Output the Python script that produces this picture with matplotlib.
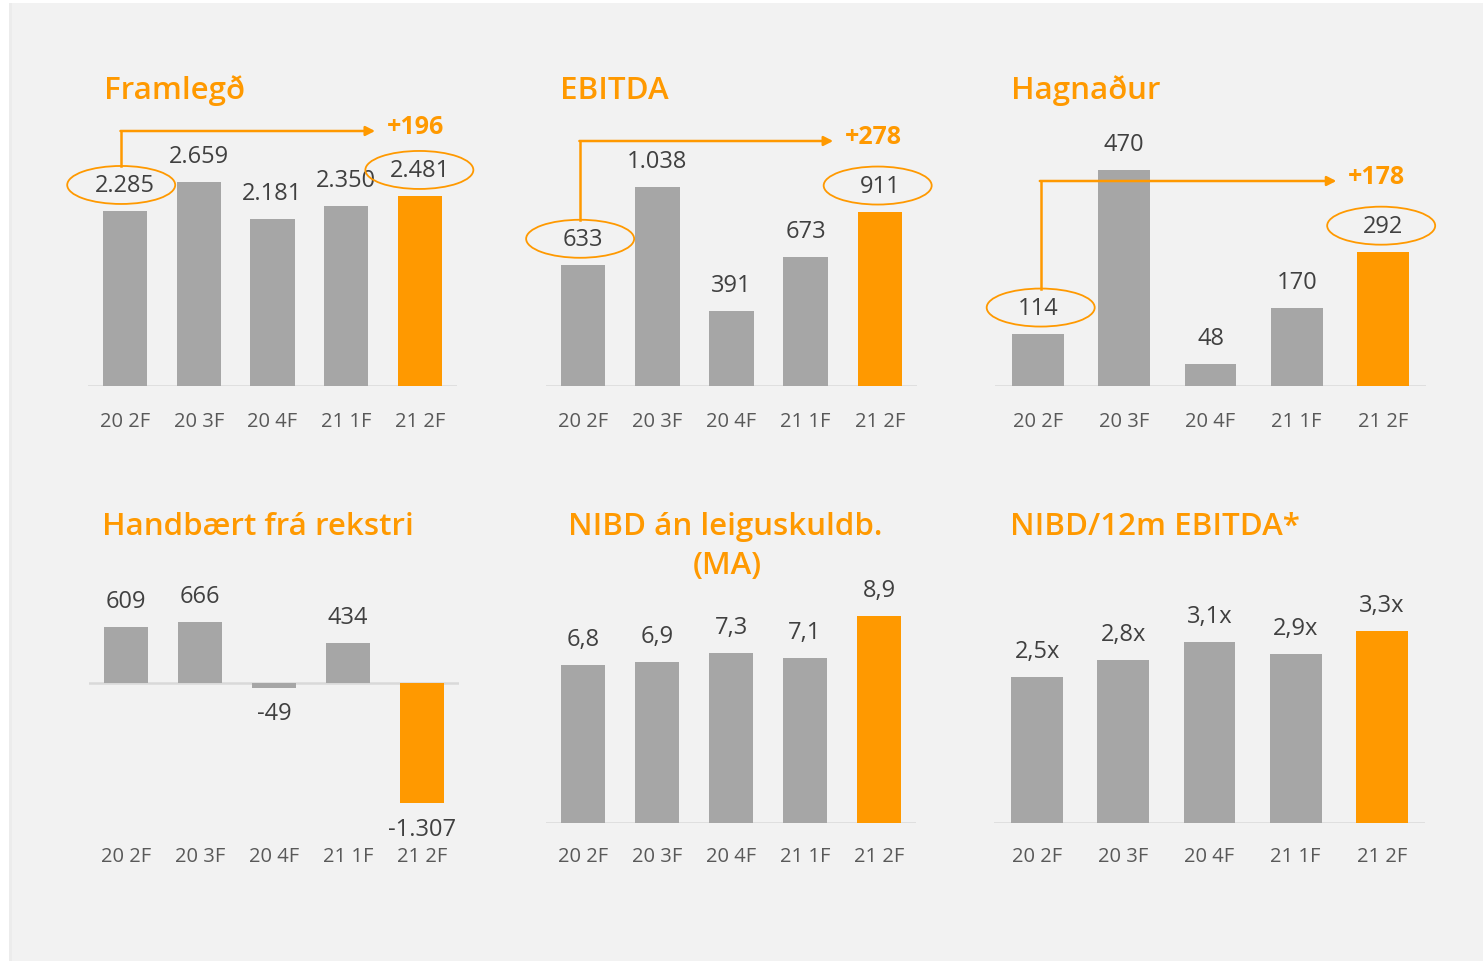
"""Six small quarterly bar panels (Framlegð, EBITDA, Hagnaður, ...)"""

import matplotlib
matplotlib.use('Agg')
import matplotlib.pyplot as plt
from matplotlib.patches import Ellipse, Rectangle

# data
quarters = ['20 2F', '20 3F', '20 4F', '21 1F', '21 2F']
framlegd = [2285, 2659, 2181, 2350, 2481]
ebitda = [633, 1038, 391, 673, 911]
hagnadur = [114, 470, 48, 170, 292]
handbaert = [609, 666, -49, 434, -1307]
nibd = [6.8, 6.9, 7.3, 7.1, 8.9]
nibd_ebitda = [2.5, 2.8, 3.1, 2.9, 3.3]

# colours
ORANGE = '#ff9900'
GRAY = '#a6a6a6'
TXT = '#404040'
TICK = '#595959'

W, H = 1483, 962
plt.rcParams['font.family'] = ['Open Sans', 'DejaVu Sans']
fig = plt.figure(figsize=(W / 100, H / 100), dpi=100)
fig.patch.set_facecolor('white')

# light gray slide background with a faint shadow on the left edge
for off, col in [(3, '#ececec'), (2, '#dedede'), (1, '#cfcfcf')]:
    fig.add_artist(Rectangle(((12 - off) / W, 0), (W - 12 + off) / W, (H - 4) / H,
                             transform=fig.transFigure, facecolor=col,
                             edgecolor='none', zorder=-12 + off))
fig.add_artist(Rectangle((12 / W, 0), (W - 12) / W, (H - 4) / H,
                         transform=fig.transFigure, facecolor='#f2f2f2',
                         edgecolor='none', zorder=-5))


def fmt_int(v):
    return f'{v:,}'.replace(',', '.')


def fmt_dec(v):
    return f'{v:.1f}'.replace('.', ',')


def fmt_x(v):
    return fmt_dec(v) + 'x'


def panel(values, fmt, left, right, base, top, bottom, scale, pad):
    """axes placed by pixel box; scale = pixels per data unit"""
    ax = fig.add_axes([left / W, 1 - bottom / H, (right - left) / W, (bottom - top) / H])
    ax.set_facecolor('none')
    ax.set_xlim(-0.5, 4.5)
    ax.set_ylim(-(bottom - base) / scale, (base - top) / scale)
    for s in ax.spines.values():
        s.set_visible(False)
    ax.set_yticks([])
    ax.set_xticks(range(len(quarters)), quarters)
    ax.tick_params(axis='x', length=0, pad=pad, labelsize=14.5, labelcolor=TICK)
    ax.axhline(0, color='#d9d9d9', lw=1.8, zorder=1)
    colors = [GRAY] * (len(values) - 1) + [ORANGE]
    ax.bar(range(len(values)), values, width=0.6, color=colors, zorder=2)
    for i, v in enumerate(values):
        off = 18.7 if v >= 0 else -18.7
        ax.annotate(fmt(v), (i, v), xytext=(0, off), textcoords='offset points',
                    ha='center', va='center', fontsize=17, color=TXT, zorder=4)
    ux = (right - left) / 5.0
    return ax, ux, scale


def growth_marker(ax, ux, scale, values, arrow_px, end_idx, dx0, dx1):
    """circle first and last labels, arrow between them with the change"""
    last = len(values) - 1
    for i, dx in ((0, dx0), (last, dx1)):
        ax.add_patch(Ellipse((i + dx, values[i] + 26 / scale), 108 / ux, 38 / scale,
                             fill=False, edgecolor=ORANGE, lw=1.3, clip_on=False, zorder=5))
    x0 = dx0
    y0 = values[0] + 26 / scale + 19 / scale
    yh = arrow_px / scale
    ax.plot([x0, x0], [y0, yh], color=ORANGE, lw=1.8, clip_on=False, zorder=5)
    ax.annotate('', xy=(end_idx, yh), xytext=(x0 - 0.01, yh),
                arrowprops=dict(arrowstyle='-|>,head_length=0.55,head_width=0.28',
                                color=ORANGE, lw=1.8, shrinkA=0, shrinkB=0),
                annotation_clip=False, zorder=5)
    ax.text(end_idx + 12 / ux, yh + 4 / scale, f'+{values[-1] - values[0]}',
            ha='left', va='center', fontsize=18, fontweight='bold', color=ORANGE)


# top row
ax1, ux1, s1 = panel(framlegd, fmt_int, 88, 457, 387, 100, 387, 0.0766, 18)
growth_marker(ax1, ux1, s1, framlegd, 255, 3.39, -0.05, -0.01)
ax2, ux2, s2 = panel(ebitda, fmt_int, 546, 917, 387, 100, 387, 0.1915, 18)
growth_marker(ax2, ux2, s2, ebitda, 245, 3.37, -0.04, -0.03)
ax3, ux3, s3 = panel(hagnadur, fmt_int, 995, 1426, 387, 100, 387, 0.46, 18)
growth_marker(ax3, ux3, s3, hagnadur, 205, 3.46, 0.03, -0.02)

# bottom row
ax4, _, _ = panel(handbaert, fmt_int, 89, 459, 684, 560, 824, 0.092, 16.5)
ax5, _, _ = panel(nibd, fmt_dec, 546, 916, 824, 560, 824, 23.3, 16.5)
ax6, _, _ = panel(nibd_ebitda, fmt_x, 994, 1425, 824, 560, 824, 58.3, 16.5)

# panel titles
title_kw = dict(fontsize=22.5, fontweight='semibold', color=ORANGE, va='center')
fig.text(104 / W, 1 - 91 / H, 'Framlegð', ha='left', **title_kw)
fig.text(560 / W, 1 - 91 / H, 'EBITDA', ha='left', **title_kw)
fig.text(1011 / W, 1 - 91 / H, 'Hagnaður', ha='left', **title_kw)
fig.text(102 / W, 1 - 527 / H, 'Handbært frá rekstri', ha='left', **title_kw)
fig.text(725 / W, 1 - 527 / H, 'NIBD án leiguskuldb.', ha='center', **title_kw)
fig.text(727 / W, 1 - 566 / H, '(MA)', ha='center', **title_kw)
fig.text(1010 / W, 1 - 527 / H, 'NIBD/12m EBITDA*', ha='left', **title_kw)

fig.savefig('out.png', dpi=100, facecolor=fig.get_facecolor())
